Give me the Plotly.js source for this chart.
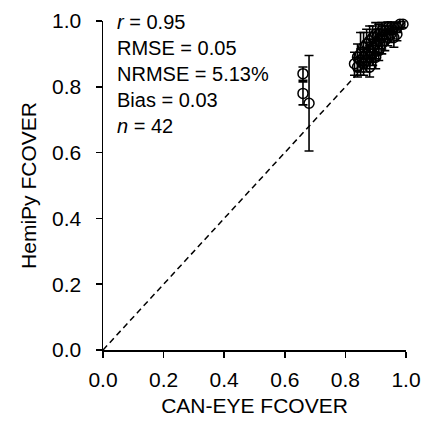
<!DOCTYPE html>
<html>
<head>
<meta charset="utf-8">
<script src="https://cdn.plot.ly/plotly-3.0.1.min.js"></script>
<style>html,body{margin:0;padding:0;background:#fff;}#chart{width:423px;height:422px;}</style>
</head>
<body>
<div id="chart"></div>
<script>
// CAN-EYE FCOVER (x), HemiPy FCOVER (y), error bar half-widths (y)
const canEye = [0.66, 0.66, 0.68,
  0.83,0.84,0.84,0.85,0.85,0.86,0.86,0.86,0.87,0.87,0.87,0.88,0.88,0.88,0.88,
  0.89,0.89,0.89,0.90,0.90,0.90,0.91,0.91,0.91,0.92,0.92,0.92,0.93,0.93,
  0.94,0.94,0.95,0.95,0.96,0.96,0.97,0.97,0.98,0.99];
const hemiPy = [0.84, 0.78, 0.75,
  0.87,0.89,0.86,0.90,0.88,0.92,0.87,0.89,0.93,0.90,0.88,0.94,0.91,0.89,0.86,
  0.95,0.92,0.90,0.96,0.93,0.89,0.96,0.94,0.91,0.97,0.95,0.93,0.97,0.94,
  0.98,0.95,0.98,0.96,0.98,0.95,0.98,0.96,0.99,0.99];
const errY = [0.02, 0.035, 0.145,
  0.035,0.04,0.03,0.065,0.035,0.045,0.035,0.03,0.045,0.035,0.035,0.045,0.035,0.035,0.03,
  0.035,0.045,0.035,0.035,0.045,0.035,0.03,0.035,0.03,0.025,0.035,0.03,0.025,0.03,
  0.02,0.025,0.02,0.025,0.015,0.03,0.015,0.02,0.01,0.01];
const oneToOne = [0, 1];
const tickVals = [0, 0.2, 0.4, 0.6, 0.8, 1.0];
const statsLines = ['<i>r</i> = 0.95', 'RMSE = 0.05', 'NRMSE = 5.13%', 'Bias = 0.03', '<i>n</i> = 42'];

const FONT = 'Liberation Sans, Arial, sans-serif';
const traces = [
  {x: oneToOne, y: oneToOne, mode: 'lines', type: 'scatter',
   line: {color: '#000', width: 1.5, dash: '6px,4px'}, hoverinfo: 'skip', showlegend: false},
  {x: canEye, y: hemiPy, mode: 'markers', type: 'scatter', cliponaxis: false,
   marker: {symbol: 'circle-open', size: 10, color: '#000', line: {width: 1.5, color: '#000'}},
   error_y: {type: 'data', array: errY, visible: true, color: '#000', thickness: 1.6, width: 4.5},
   showlegend: false}
];
const axisCommon = {
  range: [0, 1], tickvals: tickVals, tickformat: '.1f',
  showline: true, linecolor: '#000', linewidth: 1.5,
  ticks: 'outside', ticklen: 6, tickwidth: 1.5, tickcolor: '#000',
  showgrid: false, zeroline: false, fixedrange: true,
  tickfont: {family: FONT, size: 21, color: '#000'}
};
const layout = {
  width: 423, height: 422,
  margin: {l: 103, r: 17, t: 21, b: 72},
  paper_bgcolor: '#fff', plot_bgcolor: '#fff',
  font: {family: FONT, size: 21, color: '#000'},
  xaxis: Object.assign({}, axisCommon, {
    title: {text: 'CAN-EYE FCOVER', font: {family: FONT, size: 21, color: '#000'}, standoff: 8},
    ticklabelstandoff: 4
  }),
  yaxis: Object.assign({}, axisCommon, {
    title: {text: 'HemiPy FCOVER', font: {family: FONT, size: 21, color: '#000'}, standoff: 9},
    ticklabelstandoff: 10
  }),
  annotations: [{
    xref: 'paper', yref: 'paper', x: 0.04, y: 1.035, xanchor: 'left', yanchor: 'top',
    align: 'left', showarrow: false, text: statsLines.join('<br>'),
    font: {family: FONT, size: 20, color: '#000'}
  }]
};
Plotly.newPlot('chart', traces, layout, {displayModeBar: false, staticPlot: true});
</script>
</body>
</html>
